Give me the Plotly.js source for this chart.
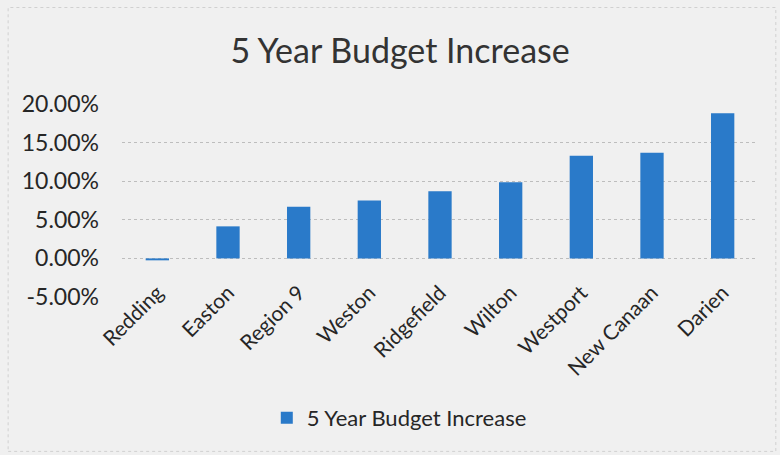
<!DOCTYPE html>
<html>
<head>
<meta charset="utf-8">
<script src="https://cdn.plot.ly/plotly-3.0.1.min.js"></script>
<style>html,body{margin:0;padding:0;background:#f0f0f0;}#chart{width:780px;height:455px;}</style>
</head>
<body>
<div id="chart"></div>
<script>
const categories = ["Redding", "Easton", "Region 9", "Weston", "Ridgefield", "Wilton", "Westport", "New Canaan", "Darien"];
const budgetIncrease = [-0.0025, 0.0415, 0.067, 0.075, 0.087, 0.0985, 0.133, 0.137, 0.188];
const seriesName = "5 Year Budget Increase";
const chartTitle = "5 Year Budget Increase";
const yTickValues = [-0.05, 0, 0.05, 0.10, 0.15, 0.20];
const yTickLabels = ["-5.00%", "0.00%", "5.00%", "10.00%", "15.00%", "20.00%"];

const FONT = "Lato, 'Open Sans', sans-serif";
const TXT = "#262626";

const trace = {
  type: "bar",
  x: categories,
  y: budgetIncrease,
  name: seriesName,
  marker: {color: "#2a7ac9"},
  showlegend: true,
  hoverinfo: "x+y"
};

const layout = {
  width: 780,
  height: 455,
  paper_bgcolor: "#f0f0f0",
  plot_bgcolor: "#f0f0f0",
  margin: {l: 122, r: 22, t: 104, b: 158},
  bargap: 0.67,
  font: {family: FONT, color: TXT},
  title: {
    text: chartTitle,
    font: {family: FONT, size: 34, color: "#333333"},
    x: 0.513, xref: "container", xanchor: "center",
    y: 0.888, yref: "container", yanchor: "middle"
  },
  xaxis: {
    type: "category",
    anchor: "free",
    position: 0.2,
    tickangle: -45,
    tickfont: {family: FONT, size: 21, color: TXT},
    ticklabelstandoff: 17,
    showgrid: false,
    showline: false,
    ticks: "",
    automargin: false
  },
  yaxis: {
    range: [-0.05, 0.2],
    tickmode: "array",
    tickvals: yTickValues,
    ticktext: yTickLabels,
    tickfont: {family: FONT, size: 23, color: TXT},
    showgrid: true,
    gridcolor: "#bdbdbd",
    griddash: "dot",
    gridwidth: 1,
    zeroline: false,
    showline: false,
    ticks: "",
    ticklabelstandoff: 22,
    automargin: false
  },
  legend: {
    orientation: "h",
    x: 0.436, xref: "paper", xanchor: "center",
    y: -0.627, yanchor: "middle",
    font: {family: FONT, size: 22, color: TXT},
    bgcolor: "rgba(0,0,0,0)"
  },
  shapes: [{
    type: "rect", xref: "paper", yref: "paper",
    x0: -0.179, x1: 1.028, y0: -0.80, y1: 1.50,
    line: {color: "#d0d0d0", width: 1, dash: "dot"},
    layer: "below"
  }]
};

Plotly.newPlot("chart", [trace], layout, {displayModeBar: false, staticPlot: true});
</script>
</body>
</html>
